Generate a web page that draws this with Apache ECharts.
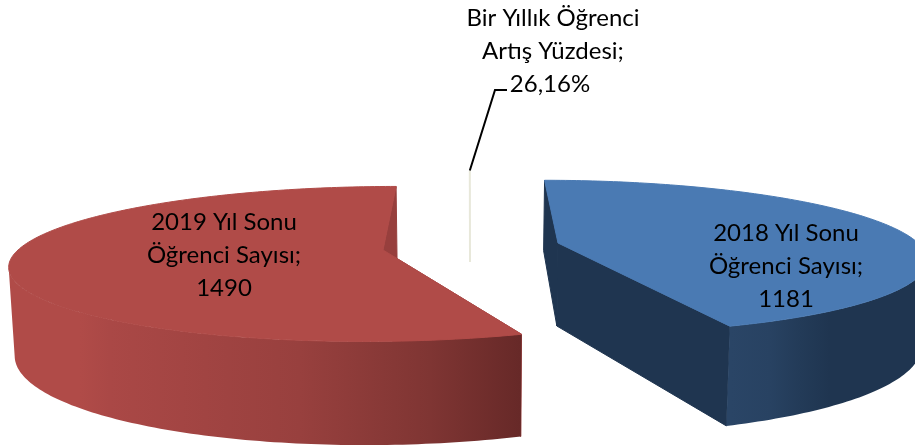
<!DOCTYPE html>
<html><head><meta charset="utf-8">
<style>html,body{margin:0;padding:0;background:#fff}#c{width:915px;height:447px}</style>
<script src="https://cdn.jsdelivr.net/npm/echarts@6/dist/echarts.min.js"></script>
</head><body><div id="c"></div>
<script>
// Data
const categories = ['2018 Yıl Sonu\nÖğrenci Sayısı', '2019 Yıl Sonu\nÖğrenci Sayısı', 'Bir Yıllık Öğrenci\nArtış Yüzdesi'];
const values = [1181, 1490, 0.2616];
const valueLabels = ['1181', '1490', '26,16%'];

// Layout of the perspective pie
const vanishX = 470, persp = 0.18, shrink = 0.987;
const radiiX = [360, 365, 360];
const apexes = [[558, 243], [383, 250], [470, 262]];
const radiiY = [74, 75, 108];
const depths = [83, 85, 0];
const topColors = ['#4A7AB3', '#B04B48', '#E8E8DA'];
const edgeColors = ['#1F3550', '#973F3D', '#E8E8DA'];
const labelPos = [[786, 233], [224, 222], [553, 18]];
const lineGap = 33;
const arcStops = [
  [[731, '#2A4566'], [770, '#284262'], [800, '#233B58'], [830, '#1F3550'], [915, '#1F3550']],
  [[10, '#B04B48'], [80, '#B04B48'], [110, '#AA4846'], [300, '#98403E'], [430, '#7F3533'], [520, '#672928']],
  []
];

const total = values.reduce((a, b) => a + b, 0);
const angleAt = [];
values.reduce((acc, v, i) => { angleAt[i] = [acc, acc + v / total * 360]; return acc + v / total * 360; }, 0);

function project(i, deg, r, lower) {
  const t = deg * Math.PI / 180;
  const x = Math.sin(t) * r, y = -Math.cos(t) * r;
  const w = 1 - persp * y;
  const ax = apexes[i][0] - vanishX;
  const f = lower ? shrink : 1;
  return [vanishX + f * (ax + radiiX[i] * x) / w,
          apexes[i][1] + radiiY[i] * y / w + (lower ? depths[i] / w : 0)];
}
function arcPts(i, from, to, lower) {
  const n = Math.max(2, Math.ceil(Math.abs(to - from)));
  const out = [];
  for (let k = 0; k <= n; k++) out.push(project(i, from + (to - from) * k / n, 1, lower));
  return out;
}
// angle of the silhouette: where the rim reaches furthest sideways
function rimExtreme(i, from, to, sign) {
  let best = from, bx = -Infinity;
  for (let d = from; d <= to; d += 0.5) {
    const v = sign * project(i, d, 1, false)[0];
    if (v > bx) { bx = v; best = d; }
  }
  return best;
}
function poly(points, fill, stroke) {
  const style = { fill };
  if (stroke) { style.stroke = stroke; style.lineWidth = 1; }
  return { type: 'polygon', shape: { points }, style, silent: true };
}
function renderItem(params) {
  const i = params.dataIndex;
  const [a0, a1] = angleAt[i];
  const kids = [];
  const apexT = project(i, 0, 0, false), apexB = project(i, 0, 0, true);
  if (depths[i] > 0) {
    const s = project(i, a0, 1, false), sB = project(i, a0, 1, true);
    const e = project(i, a1, 1, false), eB = project(i, a1, 1, true);
    kids.push(poly([apexT, s, sB, apexB], edgeColors[i], edgeColors[i]));
    kids.push(poly([apexT, e, eB, apexB], edgeColors[i], edgeColors[i]));
    // visible outer wall: rim part between the silhouette points facing the viewer
    const lo = a0 < 90 ? rimExtreme(i, a0, 180, 1) : a0;
    const hi = a1 > 180 ? rimExtreme(i, 180, a1, -1) : a1;
    const up = arcPts(i, lo, hi, false), down = arcPts(i, lo, hi, true).reverse();
    const st = arcStops[i];
    const x0 = st[0][0], x1 = st[st.length - 1][0];
    kids.push(poly(up.concat(down), {
      type: 'linear', global: true, x: x0, y: 0, x2: x1, y2: 0,
      colorStops: st.map(d => ({ offset: (d[0] - x0) / (x1 - x0), color: d[1] }))
    }));
    kids.push(poly([apexT].concat(arcPts(i, a0, a1, false)), topColors[i], topColors[i]));
  } else {
    const pts = arcPts(i, a0, a1, false);
    kids.push({ type: 'polyline', shape: { points: [pts[0], apexT] },
      style: { fill: null, stroke: topColors[i], lineWidth: 2 }, silent: true });
    kids.push({ type: 'polyline', shape: { points: [pts[0], [495, 90], [507, 90]] },
      style: { fill: null, stroke: '#000', lineWidth: 2 }, silent: true });
  }
  const lines = (categories[i] + ';').split('\n').concat(valueLabels[i]);
  lines.forEach((txt, k) => {
    kids.push({ type: 'text', x: labelPos[i][0] - (i === 2 && k === 2 ? 3 : 0), y: labelPos[i][1] + k * lineGap, silent: true,
      style: { text: txt, fill: '#000', font: '24px Lato', textAlign: 'center', textVerticalAlign: 'middle' } });
  });
  return { type: 'group', children: kids };
}
const chart = echarts.init(document.getElementById('c'), null, { renderer: 'canvas' });
chart.setOption({
  animation: false,
  backgroundColor: '#fff',
  series: [{
    type: 'custom', coordinateSystem: 'none', renderItem, clip: false,
    data: values.map((v, i) => ({ name: categories[i], value: v }))
  }]
});
</script></body></html>
